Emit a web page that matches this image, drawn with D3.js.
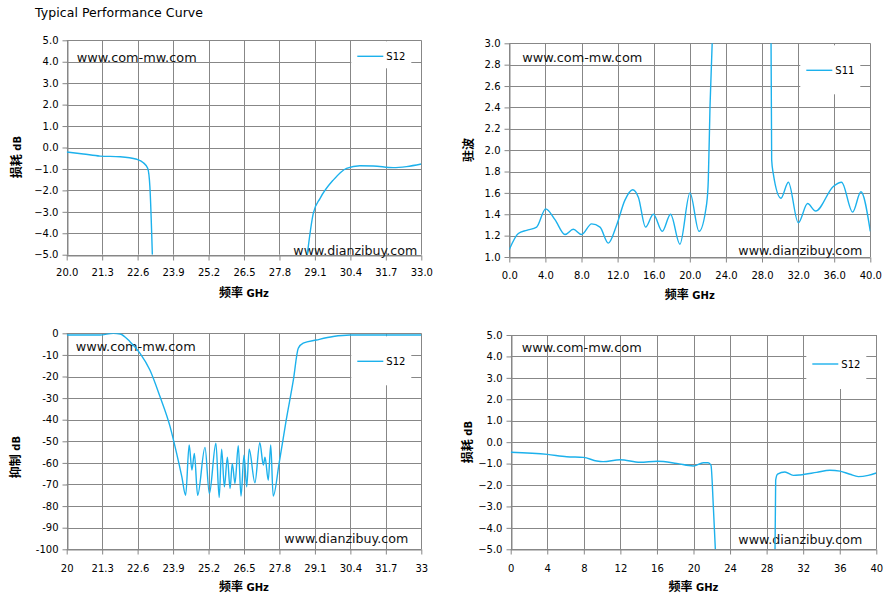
<!DOCTYPE html>
<html>
<head>
<meta charset="utf-8">
<script src="https://cdn.jsdelivr.net/npm/d3@7"></script>
<style>
  body { margin: 0; background: #fff; }
  svg { display: block; }
</style>
</head>
<body>
<svg id="chart" width="894" height="607"></svg>
<script>
// top left: insertion loss 20-33 GHz (null = gap in the trace)
const lossNarrowFreq = [20.0, 20.61, 21.22, 21.96, 22.57, 22.81, 22.97, 23.05, 23.14, null,
                        28.82, 29.04, 29.29, 29.77, 30.26, 30.75, 31.24, 31.97, 32.46, 33.0];
const lossNarrowDb   = [-0.21, -0.30, -0.40, -0.43, -0.55, -0.71, -0.97, -1.83, -5.0, null,
                        -5.0, -3.07, -2.37, -1.52, -0.97, -0.85, -0.86, -0.94, -0.89, -0.77];

// top right: VSWR 0-40 GHz
const vswrFreq = [0, 1.0, 1.92, 3.03, 4.03, 5.06, 6.17, 7.09, 8.01, 9.12, 10.05, 10.97, 11.9, 12.8,
                  13.67, 14.3, 15.1, 15.96, 16.95, 17.87, 18.9, 20.02, 21.02, 21.87, 22.05, 22.24, 22.5, null,
                  29.0, 29.07, 29.25, 30.1, 30.92, 32.02, 33.05, 33.94, 35.9, 36.82, 38.04, 38.96, 40.0];
const vswrVal  = [1.07, 1.22, 1.25, 1.28, 1.45, 1.35, 1.21, 1.26, 1.21, 1.31, 1.28, 1.13, 1.30, 1.53,
                  1.63, 1.56, 1.28, 1.40, 1.24, 1.40, 1.12, 1.60, 1.24, 1.50, 1.72, 2.41, 3.05, null,
                  3.05, 1.91, 1.78, 1.55, 1.70, 1.32, 1.50, 1.43, 1.66, 1.70, 1.42, 1.61, 1.24];

// bottom left: rejection 20-33 GHz
const rejFreq = [20.0, 21.22, 21.71, 21.96, 22.32, 22.69, 23.05, 23.42, 23.79, 24.03, 24.22, 24.36,
                 24.49, 24.59, 24.68, 24.80, 25.07, 25.23, 25.47, 25.59, 25.68, 25.78, 25.89, 25.99,
                 26.07, 26.17, 26.29, 26.39, 26.50, 26.60, 26.69, 26.90, 27.08, 27.21, 27.27, 27.39,
                 27.48, 27.57, 27.79, 28.05, 28.31, 28.49, 28.67, 29.16, 29.77, 30.39, 33.0];
const rejDb   = [-0.8, -0.8, 0, -0.3, -3.9, -9.3, -17, -29.3, -43.2, -55.6, -66.4, -75.0,
                 -51.7, -63.3, -55.6, -75.0, -52.8, -74.2, -50.9, -76.0, -53.7, -71.1, -57.4, -71.9,
                 -60.2, -69.5, -52.0, -75.4, -56.4, -71.1, -53.7, -69.2, -50.6, -61.0, -57.4, -68.0,
                 -51.7, -75.4, -60.0, -40.0, -21.6, -6.9, -4.6, -3.1, -1.5, -0.8, -0.8];

// bottom right: insertion loss 0-40 GHz
const lossWideFreq = [0, 4.01, 6.13, 7.95, 9.41, 10.1, 11.96, 14.15, 16.04, 18.16, 19.98, 21.08, 21.6,
                      21.91, 22.17, 22.39, null,
                      28.92, 28.99, 29.2, 30.0, 30.92, 31.65, 33.47, 34.93, 36.03, 37.12, 38.03, 39.12, 40.0];
const lossWideDb   = [-0.47, -0.57, -0.68, -0.71, -0.88, -0.91, -0.82, -0.94, -0.89, -0.99, -1.11, -0.96, -0.96,
                      -1.07, -3.0, -5.0, null,
                      -5.0, -1.77, -1.49, -1.39, -1.55, -1.53, -1.41, -1.31, -1.35, -1.50, -1.61, -1.55, -1.44];

// tick values
const ticksNarrow = [20.0, 21.3, 22.6, 23.9, 25.2, 26.5, 27.8, 29.1, 30.4, 31.7, 33.0];
const ticksWide   = [0, 4, 8, 12, 16, 20, 24, 28, 32, 36, 40];
const ticksLoss   = [5, 4, 3, 2, 1, 0, -1, -2, -3, -4, -5];
const ticksVswr   = [3.0, 2.8, 2.6, 2.4, 2.2, 2.0, 1.8, 1.6, 1.4, 1.2, 1.0];
const ticksRej    = [0, -10, -20, -30, -40, -50, -60, -70, -80, -90, -100];

const GRID = '#878787';
const TRACE = '#1cb1ec';
const FONT = '"DejaVu Sans", Verdana, sans-serif';
const CJK = '"Noto Sans CJK SC", sans-serif';

const svg = d3.select('#chart');

svg.append('text')
    .attr('x', 35).attr('y', 17)
    .attr('font-family', FONT).attr('font-size', 12.5)
    .attr('textLength', 168).attr('lengthAdjust', 'spacing')
    .text('Typical Performance Curve');

const fmt1 = d3.format('.1f');
const fmtTrim = d => (Number.isInteger(d) ? String(d) : fmt1(d));
const fmtInt = d => String(d);

// wm: [com-mw x offset from left, baseline from top, dianzibuy x offset from right, baseline from bottom]
const panels = [
    { freq: lossNarrowFreq, vals: lossNarrowDb, xd: [20, 33], yd: [-5, 5],
      xt: ticksNarrow, xf: fmt1, yt: ticksLoss, yf: fmt1,
      l: 66.7, r: 421.3, t: 40.3, b: 254.7, yName: '损耗', yUnit: ' dB', yTx: 16, yTy: 157,
      legend: 'S12', legTop: 1, legH: 27, legDy: 16, xLab: 17, wm: [10, 21.5, 128, 0] },
    { freq: vswrFreq, vals: vswrVal, xd: [0, 40], yd: [1, 3],
      xt: ticksWide, xf: fmt1, yt: ticksVswr, yf: fmt1,
      l: 509.3, r: 870.3, t: 43.3, b: 257, yName: '驻波', yUnit: '', yTx: 468, yTy: 150,
      legend: 'S11', legTop: 2, legH: 49, legDy: 27, xLab: 18, wm: [13, 19, 132, 2.5] },
    { freq: rejFreq, vals: rejDb, xd: [20, 33], yd: [-100, 0],
      xt: ticksNarrow, xf: fmtTrim, yt: ticksRej, yf: fmtInt,
      l: 66.7, r: 421.3, t: 333.3, b: 549.3, yName: '抑制', yUnit: ' dB', yTx: 15, yTy: 457,
      legend: 'S12', legTop: 3, legH: 49, legDy: 28, xLab: 19, wm: [9, 18, 137, 6] },
    { freq: lossWideFreq, vals: lossWideDb, xd: [0, 40], yd: [-5, 5],
      xt: ticksWide, xf: fmtInt, yt: ticksLoss, yf: fmt1,
      l: 510.7, r: 876.3, t: 335, b: 549.3, yName: '损耗', yUnit: ' dB', yTx: 467, yTy: 442,
      legend: 'S12', legTop: 1, legH: 53, legDy: 29, xLab: 19, wm: [11, 17, 138, 5] }
];

panels.forEach(function (p, i) {
    const x = d3.scaleLinear().domain(p.xd).range([p.l, p.r]);
    const y = d3.scaleLinear().domain(p.yd).range([p.b, p.t]);
    const g = svg.append('g');

    // grid
    g.selectAll('.hg').data(p.yt).join('line')
        .attr('x1', p.l).attr('x2', p.r)
        .attr('y1', d => Math.round(y(d)) + 0.5).attr('y2', d => Math.round(y(d)) + 0.5)
        .attr('stroke', GRID).attr('stroke-width', 1);
    g.selectAll('.vg').data(p.xt).join('line')
        .attr('y1', p.t).attr('y2', p.b)
        .attr('x1', d => Math.round(x(d)) + 0.5).attr('x2', d => Math.round(x(d)) + 0.5)
        .attr('stroke', GRID).attr('stroke-width', 1);

    // axes (ticks outside)
    const ya = g.append('g').attr('transform', `translate(${Math.round(p.l) + 0.5},0)`)
        .call(d3.axisLeft(y).tickValues(p.yt).tickFormat(p.yf).tickSize(5).tickSizeOuter(0).tickPadding(4));
    const xa = g.append('g').attr('transform', `translate(0,${Math.round(p.b) + 0.5})`)
        .call(d3.axisBottom(x).tickValues(p.xt).tickFormat(p.xf).tickSize(5).tickSizeOuter(0).tickPadding(p.xLab - 9));
    [ya, xa].forEach(a => {
        a.select('.domain').attr('stroke', GRID);
        a.selectAll('line').attr('stroke', GRID);
        a.selectAll('text').attr('font-family', FONT).attr('font-size', 10).attr('fill', '#000');
    });

    // legend box
    g.append('rect')
        .attr('x', p.r - 70).attr('y', p.t + p.legTop)
        .attr('width', 60).attr('height', p.legH)
        .attr('fill', '#fff');
    const ly = p.t + p.legDy;
    g.append('line')
        .attr('x1', p.r - 64).attr('x2', p.r - 38)
        .attr('y1', ly).attr('y2', ly)
        .attr('stroke', TRACE).attr('stroke-width', 1.4);
    g.append('text')
        .attr('x', p.r - 35).attr('y', ly + 3.5)
        .attr('font-family', FONT).attr('font-size', 10)
        .text(p.legend);

    // watermarks
    g.append('text')
        .attr('x', p.l + p.wm[0]).attr('y', p.t + p.wm[1])
        .attr('font-family', FONT).attr('font-size', 12.5).attr('fill', '#111')
        .attr('textLength', 120).attr('lengthAdjust', 'spacingAndGlyphs')
        .text('www.com-mw.com');
    g.append('text')
        .attr('x', p.r - p.wm[2]).attr('y', p.b - p.wm[3])
        .attr('font-family', FONT).attr('font-size', 12.5).attr('fill', '#111')
        .attr('textLength', 124).attr('lengthAdjust', 'spacingAndGlyphs')
        .text('www.dianzibuy.com');

    // trace
    const clipId = 'clip' + i;
    svg.append('clipPath').attr('id', clipId)
        .append('rect').attr('x', p.l).attr('y', p.t).attr('width', p.r - p.l).attr('height', p.b - p.t);
    const pts = p.freq.map((f, k) => ({ f: f, v: p.vals[k] }));
    const line = d3.line()
        .defined(d => d.f !== null && d.v !== null)
        .curve(d3.curveMonotoneX)
        .x(d => x(d.f))
        .y(d => y(d.v));
    g.append('path')
        .datum(pts)
        .attr('clip-path', `url(#${clipId})`)
        .attr('d', line)
        .attr('fill', 'none')
        .attr('stroke', TRACE)
        .attr('stroke-width', 1.4);

    // axis titles
    const xt = g.append('text')
        .attr('x', (p.l + p.r) / 2).attr('y', p.b + 42)
        .attr('text-anchor', 'middle').attr('font-weight', 'bold');
    xt.append('tspan').attr('font-family', CJK).attr('font-size', 12).text('频率');
    xt.append('tspan').attr('font-family', FONT).attr('font-size', 10).text(' GHz');

    const yt = g.append('text')
        .attr('transform', `translate(${p.yTx + 5},${p.yTy}) rotate(-90)`)
        .attr('text-anchor', 'middle').attr('font-weight', 'bold');
    yt.append('tspan').attr('font-family', CJK).attr('font-size', 12).text(p.yName);
    if (p.yUnit) yt.append('tspan').attr('font-family', FONT).attr('font-size', 10).text(p.yUnit);
});
</script>
</body>
</html>
